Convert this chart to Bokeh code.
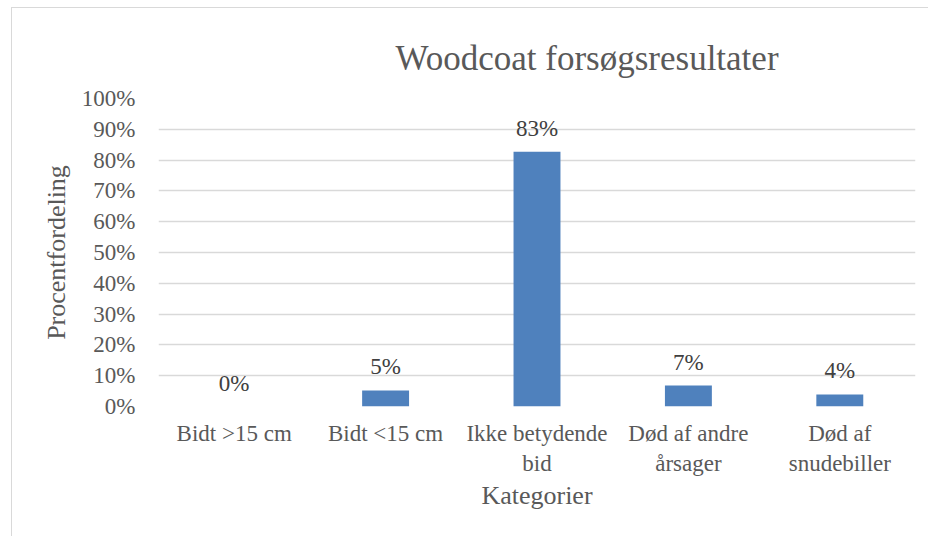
from bokeh.plotting import figure
from bokeh.models import NumeralTickFormatter, ColumnDataSource, FixedTicker
from bokeh.embed import file_html
from bokeh.resources import INLINE

title_text = "Woodcoat forsøgsresultater"
categories = ["Bidt >15 cm", "Bidt <15 cm", "Ikke betydende\nbid", "Død af andre\nårsager", "Død af\nsnudebiller"]
values = [0.0, 0.052, 0.827, 0.068, 0.039]
labels = ["0%", "5%", "83%", "7%", "4%"]
y_ticks = [0, 0.1, 0.2, 0.3, 0.4, 0.5, 0.6, 0.7, 0.8, 0.9, 1.0]

FONT = "Liberation Serif"
GRAY = "#595959"

src = ColumnDataSource(dict(x=categories, y=values, lab=labels))

p = figure(x_range=categories, y_range=(0, 1.0), width=917, height=529,
           output_backend="svg", toolbar_location=None,
           min_border_left=146, min_border_right=14, min_border_top=90, min_border_bottom=131,
           title=title_text)
p.margin = (7, 0, 0, 11)
p.styles = {"border-left": "1px solid #d9d9d9", "border-top": "1px solid #d9d9d9"}

p.vbar(x="x", top="y", width=0.31, source=src, fill_color="#4f81bd", line_color=None)
p.text(x="x", y="y", text="lab", source=src, text_align="center", text_baseline="bottom",
       y_offset=-11, text_font=FONT, text_font_size="23px", text_color="#404040")

p.title.text_font = FONT
p.title.text_font_size = "35px"
p.title.text_font_style = "normal"
p.title.text_color = GRAY
p.title.align = "left"
p.title.offset = 237
p.title.standoff = 42

p.yaxis.ticker = FixedTicker(ticks=y_ticks)
p.yaxis.formatter = NumeralTickFormatter(format="0%")
for ax in (p.xaxis[0], p.yaxis[0]):
    ax.axis_line_color = None
    ax.major_tick_line_color = None
    ax.minor_tick_line_color = None
    ax.major_label_text_font = FONT
    ax.major_label_text_font_size = "23px"
    ax.major_label_text_color = GRAY
    ax.axis_label_text_font = FONT
    ax.axis_label_text_font_size = "26px"
    ax.axis_label_text_font_style = "normal"
    ax.axis_label_text_color = GRAY

p.yaxis.axis_label = "Procentfordeling"
p.yaxis.major_label_standoff = 17
p.yaxis.axis_label_standoff = 8
p.xaxis.axis_label = "Kategorier"
p.xaxis.major_label_standoff = 8
p.xaxis.axis_label_standoff = 2

p.xgrid.grid_line_color = None
p.ygrid.grid_line_color = "#d9d9d9"
p.ygrid.grid_line_width = 1.3
p.outline_line_color = None
p.background_fill_color = "white"
p.border_fill_color = "white"

open("out.html", "w").write(file_html(p, INLINE))
